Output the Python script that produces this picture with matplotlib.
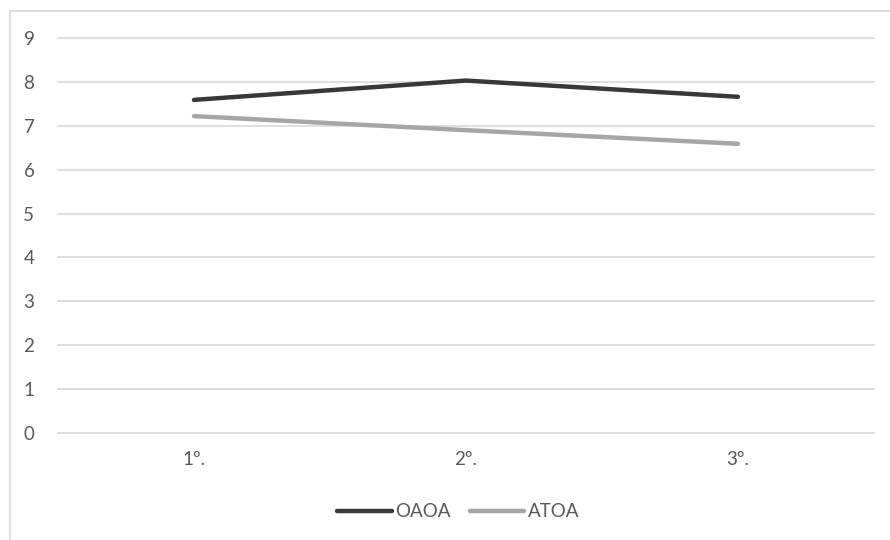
import matplotlib
matplotlib.use('Agg')
from matplotlib import pyplot as plt
from matplotlib.patches import Rectangle

categories = ['1º.', '2º.', '3º.']
oaoa = [7.59, 8.03, 7.66]
atoa = [7.22, 6.90, 6.59]
y_ticks = [0, 1, 2, 3, 4, 5, 6, 7, 8, 9]

plt.rcParams['font.family'] = ['Lato', 'DejaVu Sans']
text_color = '#595959'
grid_color = '#d9d9d9'


def plot_lines():
    fig = plt.figure(figsize=(8.9, 5.4), dpi=100)
    # light frame around the chart area
    fig.patches.append(Rectangle((10 / 890, -0.1), 1.2, 1.1 - 11 / 540,
                                 transform=fig.transFigure, fill=False,
                                 edgecolor=grid_color, linewidth=1.2))

    ax = fig.add_axes([58 / 890, 1 - 433 / 540, 816 / 890, (433 - 38) / 540])
    x = range(len(categories))
    ax.plot(x, oaoa, color='#383838', linewidth=3.2, solid_capstyle='round', label='OAOA', zorder=3)
    ax.plot(x, atoa, color='#a6a6a6', linewidth=3.2, solid_capstyle='round', label='ATOA', zorder=3)

    ax.set_xlim(-0.5, len(categories) - 0.5)
    ax.set_ylim(0, 9)
    ax.set_yticks(y_ticks)
    ax.set_xticks(list(x))
    ax.set_xticklabels(categories)
    ax.tick_params(axis='both', length=0, labelsize=13.5, labelcolor=text_color)
    ax.tick_params(axis='y', pad=17)
    ax.tick_params(axis='x', pad=13)
    ax.grid(axis='y', color=grid_color, linewidth=1.2, zorder=0)
    for gl in ax.get_ygridlines():
        gl.set_clip_on(False)
    for side in ax.spines.values():
        side.set_visible(False)

    leg = fig.legend(loc='center', bbox_to_anchor=(0.515, 0.052), ncol=2, frameon=False,
                     fontsize=13.5, handlelength=2.9, handletextpad=0.2, columnspacing=1.0)
    for t in leg.get_texts():
        t.set_color(text_color)

    fig.savefig('out.png', dpi=100, facecolor='white')


def main():
    plot_lines()


if __name__ == '__main__':
    main()
